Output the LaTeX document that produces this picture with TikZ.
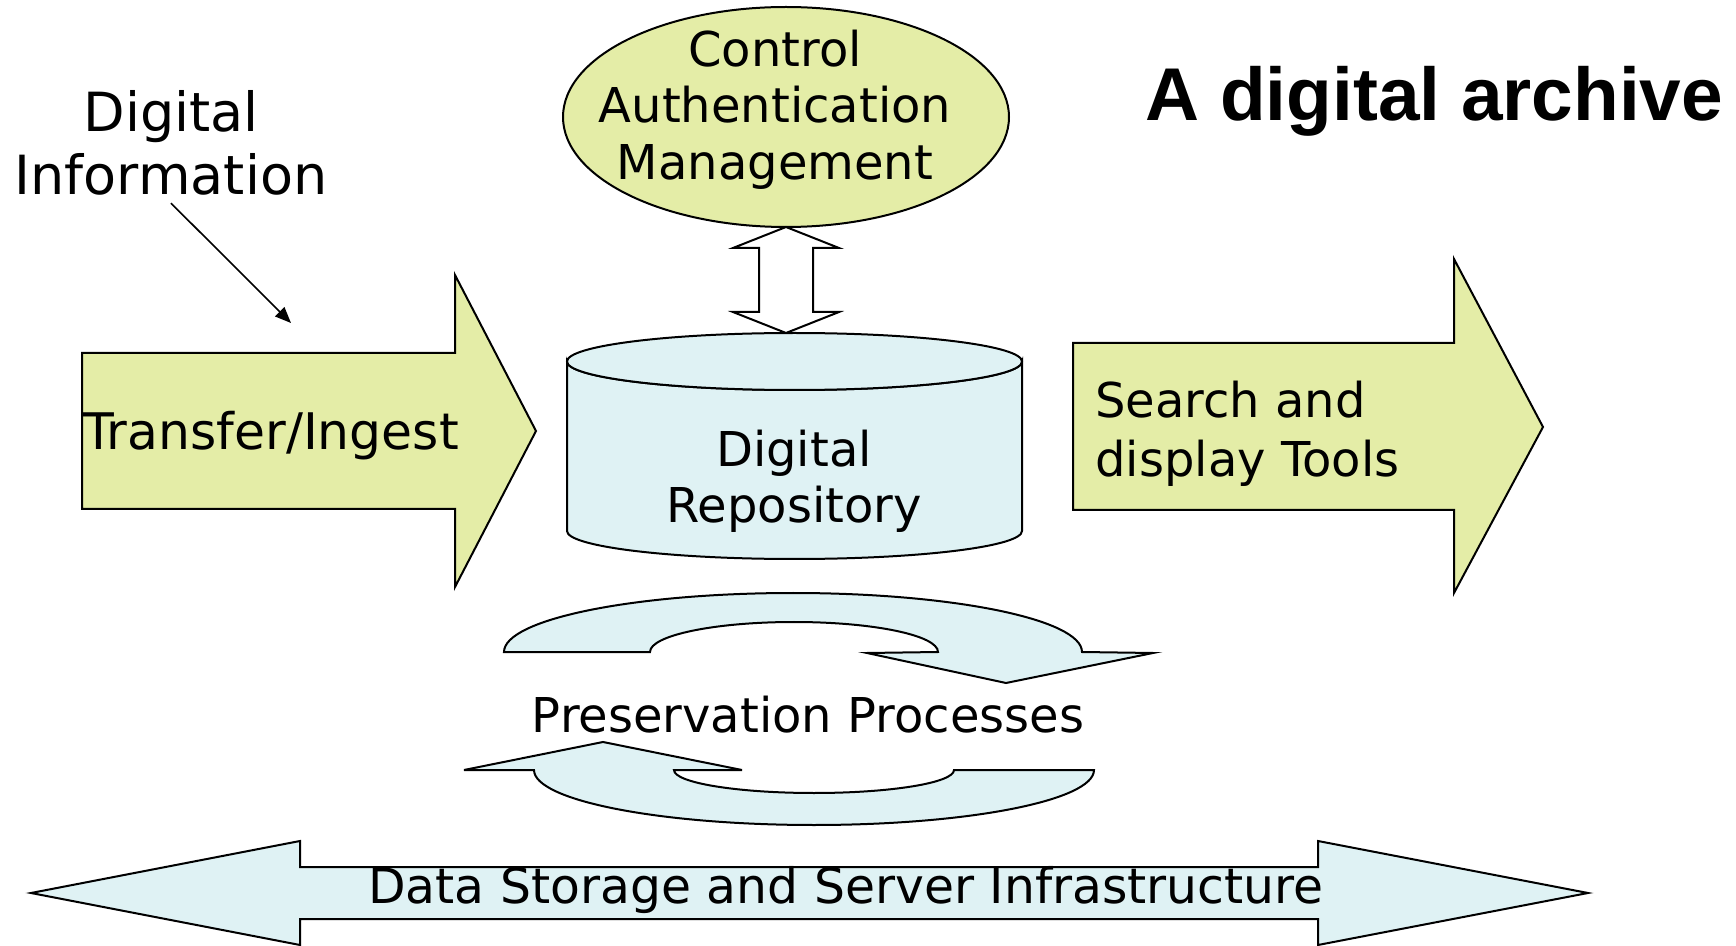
\documentclass[tikz,border=0pt]{standalone}
\usepackage{fontspec}
\setmainfont{DejaVu Sans}
\newfontfamily\titlefont{Liberation Sans}
\usetikzlibrary{arrows.meta}
\definecolor{greenfill}{RGB}{228,237,167}
\definecolor{cyanfill}{RGB}{223,242,244}
\begin{document}
\begin{tikzpicture}[x=0.5pt,y=-0.5pt,
  outline/.style={draw=black,line width=1pt,line join=miter},
  greenshape/.style={outline,fill=greenfill},
  cyanshape/.style={outline,fill=cyanfill},
  whiteshape/.style={outline,fill=white},
  lbl/.style={font=\fontsize{24}{29}\selectfont,inner sep=0pt,anchor=base},
  lblw/.style={lbl,anchor=base west},
  pointer/.style={draw=black,line width=0.8pt,-{Triangle[length=8pt,width=6.5pt]}},
  ]
\useasboundingbox (0,0) rectangle (1736,946);

% Control ellipse
\draw[greenshape] (786,117) ellipse [x radius=223, y radius=110];
\node[lbl] (ctl1) at (775,67) {Control};
\node[lbl] (ctl2) at (775,123) {Authentication};
\node[lbl] (ctl3) at (775,180) {Management};

% vertical double arrow
\draw[whiteshape] (786,227) -- (839,248) -- (813,248) -- (813,312) -- (839,312)
  -- (786,333) -- (733,312) -- (759,312) -- (759,248) -- (733,248) -- cycle;

% Cylinder
\draw[cyanshape] (567,361.5) -- (567,531) arc[start angle=180, end angle=0, x radius=227.5, y radius=28]
  -- (1022,361.5) arc[start angle=0, end angle=180, x radius=227.5, y radius=28.5] -- cycle;
\draw[cyanshape] (794.5,361.5) ellipse [x radius=227.5, y radius=28.5];
\node[lbl] (rep1) at (794,467) {Digital};
\node[lbl] (rep2) at (794,523) {Repository};

% Transfer arrow
\draw[greenshape] (82,353) -- (455,353) -- (455,275) -- (536,431) -- (455,587) -- (455,509) -- (82,509) -- cycle;
\node[lblw,font=\fontsize{25.2}{30}\selectfont] (transfer) at (83,450) {Transfer/Ingest};

% Search arrow
\draw[greenshape] (1073,343) -- (1454,343) -- (1454,259) -- (1543,427) -- (1454,593) -- (1454,510) -- (1073,510) -- cycle;
\node[lblw] (search1) at (1095,418) {Search and};
\node[lblw] (search2) at (1095,477) {display Tools};

% Digital information
\node[lbl,font=\fontsize{27}{32}\selectfont] (di1) at (171,132) {Digital};
\node[lbl,font=\fontsize{27}{32}\selectfont] (di2) at (171,195) {Information};
\coordinate (diend) at (291,323);
\draw[pointer] ([yshift=-3.5pt]di2.south) -- (diend);

% Title
\node[anchor=base west,inner sep=0pt,font=\titlefont\bfseries\fontsize{37.4}{40}\selectfont] (title) at (1145,121) {A digital archive};

% Preservation cycle arrows
\draw[cyanshape] (504,652) arc[start angle=180, end angle=360, x radius=289, y radius=59]
  -- (1153,653) -- (1006,683) -- (867,653) -- (938,652)
  arc[start angle=0, end angle=-180, x radius=144, y radius=30] -- cycle;
\draw[cyanshape] (1094,770) arc[start angle=0, end angle=180, x radius=280, y radius=55]
  -- (464,770) -- (603,742) -- (742,770) -- (674,770)
  arc[start angle=180, end angle=0, x radius=140, y radius=23] -- cycle;
\node[lbl] (pres) at (808,732) {Preservation Processes};

% Data storage double arrow
\draw[cyanshape] (31,893) -- (300,841) -- (300,867) -- (1318,867) -- (1318,841) -- (1588,893)
  -- (1318,945) -- (1318,919) -- (300,919) -- (300,945) -- cycle;
\node[lbl,font=\fontsize{24.4}{29}\selectfont] (storage) at (846,903) {Data Storage and Server Infrastructure};
\end{tikzpicture}
\end{document}
